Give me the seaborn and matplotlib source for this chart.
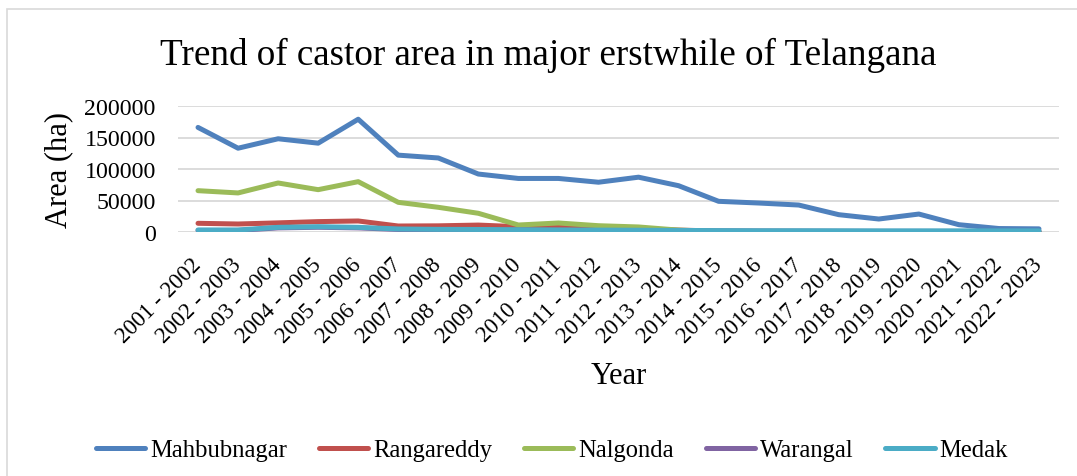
import matplotlib
matplotlib.use("Agg")
import matplotlib.pyplot as plt
import seaborn as sns
import pandas as pd
from matplotlib.patches import Rectangle
from matplotlib.lines import Line2D

years = ["2001 - 2002", "2002 - 2003", "2003 - 2004", "2004 - 2005", "2005 - 2006",
         "2006 - 2007", "2007 - 2008", "2008 - 2009", "2009 - 2010", "2010 - 2011",
         "2011 - 2012", "2012 - 2013", "2013 - 2014", "2014 - 2015", "2015 - 2016",
         "2016 - 2017", "2017 - 2018", "2018 - 2019", "2019 - 2020", "2020 - 2021",
         "2021 - 2022", "2022 - 2023"]

mahbubnagar = [166000, 133000, 148000, 141000, 179000, 122000, 117500, 92000, 85000, 85000,
               79000, 87000, 73500, 48700, 46000, 42800, 27500, 20600, 28500, 11600,
               5500, 5000]
rangareddy = [13800, 12700, 14500, 16500, 17500, 9500, 9800, 11000, 8400, 7400,
              7000, 5000, 3000, 1500, 1200, 1000, 900, 800, 700, 600, 500, 500]
nalgonda = [65600, 62000, 77800, 67200, 79900, 47100, 39200, 29700, 11100, 14300,
            10000, 8000, 3000, 800, 600, 500, 400, 300, 300, 200, 200, 200]
warangal = [2500, 2500, 6500, 7500, 6500, 4000, 3500, 3000, 2800, 2500,
            2200, 2000, 1800, 1500, 1300, 1200, 1100, 1000, 1000, 900, 900, 900]
medak = [3200, 3200, 7400, 8400, 7400, 4800, 4200, 4000, 3600, 3300,
         3000, 2800, 2500, 2200, 2000, 2000, 1900, 1800, 1800, 1800, 1800, 1800]

series_names = ["Mahbubnagar", "Rangareddy", "Nalgonda", "Warangal", "Medak"]
series_values = [mahbubnagar, rangareddy, nalgonda, warangal, medak]
colors = ["#4F81BD", "#C0504D", "#9BBB59", "#8064A2", "#4BACC6"]

rows = []
for name, vals in zip(series_names, series_values):
    for y, v in zip(years, vals):
        rows.append({"Year": y, "Area": v, "District": name})
df = pd.DataFrame(rows)

sns.set_style("white")
plt.rcParams["font.family"] = ["Liberation Serif", "DejaVu Serif"]
plt.rcParams["text.color"] = "black"
plt.rcParams["axes.labelcolor"] = "black"
plt.rcParams["xtick.color"] = "black"
plt.rcParams["ytick.color"] = "black"

fig = plt.figure(figsize=(10.77, 4.77), dpi=100)
ax = fig.add_axes([178/1077, 1 - 233/477, (1059-178)/1077, (233-107)/477])

sns.lineplot(data=df, x="Year", y="Area", hue="District", hue_order=series_names,
             palette=colors, linewidth=3.6, ax=ax, legend=False, sort=False,
             solid_capstyle="round")

ax.set_xlim(-0.5, len(years) - 0.5)
ax.set_ylim(0, 200000)
ax.set_yticks([0, 50000, 100000, 150000, 200000])
ax.set_yticklabels(["0", "50000", "100000", "150000", "200000"], fontsize=17.2)
ax.yaxis.grid(True, color="#D9D9D9", linewidth=1.3)
ax.set_axisbelow(True)
for s in ax.spines.values():
    s.set_visible(False)
ax.tick_params(axis="both", length=0)
ax.tick_params(axis="y", pad=16)
ax.set_xticks(range(len(years)))
ax.set_xticklabels(years, fontsize=16.5, rotation=45, ha="right", va="center",
                   rotation_mode="anchor")
ax.tick_params(axis="x", pad=21)

ax.set_xlabel("Year", fontsize=22, labelpad=10)
ax.set_ylabel("Area (ha)", fontsize=22, labelpad=8)

fig.text(548/1077, 1 - 55/477, "Trend of castor area in major erstwhile of Telangana",
         fontsize=26.7, ha="center", va="center")

handles = [Line2D([0], [0], color=c, linewidth=3.6, solid_capstyle="round") for c in colors]
fig.legend(handles, series_names, loc="center", bbox_to_anchor=(552/1077, 1 - 451/477),
           ncol=5, frameon=False, fontsize=17.7, handlelength=2.0, handletextpad=0.2,
           columnspacing=1.3)

fig.patches.append(Rectangle((7/1077, -0.05), 1.1, 1 - 10/477 + 0.05,
                             transform=fig.transFigure, fill=False,
                             edgecolor="#D9D9D9", linewidth=1.2))

fig.savefig("out.png", dpi=100)
